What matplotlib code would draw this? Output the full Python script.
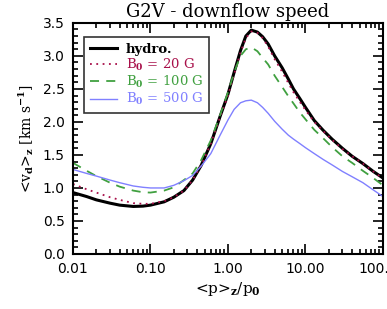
import matplotlib
matplotlib.use('Agg')
import matplotlib.pyplot as plt
import matplotlib.ticker as ticker

plt.rcParams['font.family'] = 'DejaVu Serif'
plt.rcParams['mathtext.fontset'] = 'dejavuserif'

# pressure ratio <p>_z / p_0
p_ratio = [0.01, 0.015, 0.02, 0.03, 0.04, 0.06, 0.08, 0.1, 0.15, 0.2, 0.27, 0.35, 0.45,
           0.6, 0.8, 1.0, 1.2, 1.45, 1.7, 2.0, 2.4, 2.8, 3.3, 4.0, 5.0, 6.0, 7.0, 8.5,
           10, 13, 17, 22, 30, 40, 55, 75, 100]
v_hydro = [0.93, 0.87, 0.82, 0.77, 0.74, 0.72, 0.725, 0.74, 0.79, 0.86, 0.96, 1.12, 1.34,
           1.67, 2.10, 2.42, 2.75, 3.08, 3.30, 3.39, 3.36, 3.29, 3.18, 3.00, 2.82, 2.65, 2.50, 2.35,
           2.22, 2.02, 1.87, 1.74, 1.60, 1.48, 1.37, 1.25, 1.15]
v_b20 = [1.06, 0.98, 0.93, 0.86, 0.82, 0.77, 0.76, 0.76, 0.80, 0.86, 0.96, 1.12, 1.34,
         1.67, 2.09, 2.40, 2.72, 3.05, 3.27, 3.37, 3.35, 3.27, 3.14, 2.95, 2.76, 2.59, 2.45, 2.30,
         2.18, 2.00, 1.86, 1.73, 1.59, 1.48, 1.37, 1.25, 1.14]
v_b100 = [1.38, 1.26, 1.18, 1.08, 1.02, 0.96, 0.935, 0.93, 0.96, 1.01, 1.12, 1.22, 1.42,
          1.72, 2.12, 2.45, 2.75, 3.00, 3.10, 3.13, 3.07, 2.97, 2.87, 2.70, 2.53, 2.39, 2.28, 2.14,
          2.04, 1.88, 1.75, 1.62, 1.48, 1.38, 1.26, 1.15, 1.04]
v_b500 = [1.28, 1.22, 1.18, 1.12, 1.08, 1.03, 1.01, 1.00, 1.00, 1.04, 1.11, 1.19, 1.33,
          1.52, 1.81, 2.03, 2.19, 2.29, 2.32, 2.33, 2.29, 2.22, 2.13, 2.01, 1.89, 1.80, 1.74, 1.67,
          1.61, 1.52, 1.43, 1.35, 1.25, 1.17, 1.08, 0.97, 0.87]

labels = ['hydro.', r'B$_\mathbf{0}$ = 20 G', r'B$_\mathbf{0}$ = 100 G', r'B$_\mathbf{0}$ = 500 G']
colors = ['black', '#A8104A', '#40A040', '#8080FF']

fig = plt.figure(figsize=(3.87, 3.09), dpi=100)
ax = fig.add_axes([0.1886, 0.178, 0.801, 0.748])

ax.plot(p_ratio, v_hydro, c=colors[0], lw=2.2, label=labels[0])
ax.plot(p_ratio, v_b20, c=colors[1], lw=1.3, linestyle=(0, (1, 2.5)), label=labels[1])
ax.plot(p_ratio, v_b100, c=colors[2], lw=1.3, linestyle=(0, (5, 4)), label=labels[2])
ax.plot(p_ratio, v_b500, c=colors[3], lw=1.0, label=labels[3])

ax.set_xscale('log')
ax.set_xlim(0.01, 100)
ax.set_ylim(0, 3.5)
ax.xaxis.set_major_formatter(ticker.FuncFormatter(lambda v, p: '%.2f' % v))
ax.xaxis.set_minor_formatter(ticker.NullFormatter())
ax.yaxis.set_major_locator(ticker.MultipleLocator(0.5))
ax.yaxis.set_minor_locator(ticker.MultipleLocator(0.1))
ax.yaxis.set_major_formatter(ticker.FormatStrFormatter('%.1f'))

ax.tick_params(which='both', direction='in', top=True, right=True, labelsize=10, width=1.2)
ax.tick_params(which='major', length=7, pad=6)
ax.tick_params(which='minor', length=3.5)
for s in ax.spines.values():
    s.set_linewidth(1.5)
for lab in ax.get_xticklabels() + ax.get_yticklabels():
    lab.set_family('DejaVu Sans')

ax.set_title('G2V - downflow speed', fontsize=13, pad=4)
ax.set_xlabel(r'<p>$_\mathbf{z}$/p$_\mathbf{0}$', fontsize=11, labelpad=3)
ax.set_ylabel(r'<v$_\mathbf{d}$>$_\mathbf{z}$ [km s$^\mathbf{-1}$]', fontsize=10, labelpad=5)

leg = ax.legend(loc='upper left', bbox_to_anchor=(0.037, 0.939), borderaxespad=0,
                fontsize=9.5, frameon=True, fancybox=False, edgecolor='black',
                handlelength=2.0, labelspacing=0.08, borderpad=0.45, handletextpad=0.7)
leg.get_frame().set_linewidth(1.2)
for txt, c in zip(leg.get_texts(), colors):
    txt.set_color(c)
leg.get_texts()[0].set_fontweight('bold')

fig.savefig('out.png', dpi=100)
